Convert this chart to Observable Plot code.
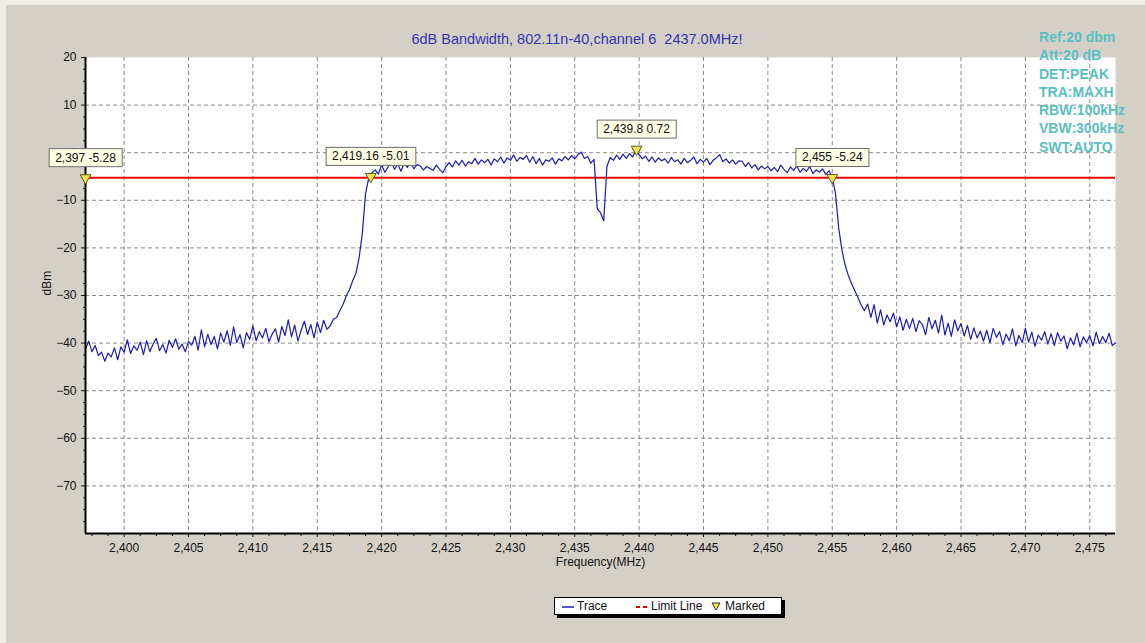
<!DOCTYPE html>
<html>
<head>
<meta charset="utf-8">
<script src="https://cdn.jsdelivr.net/npm/d3@7"></script>
<script src="https://cdn.jsdelivr.net/npm/@observablehq/plot@0.6"></script>
<style>
  html, body { margin: 0; padding: 0; width: 1145px; height: 643px; overflow: hidden; background: #eeece7; }
  #bg { position: absolute; left: 6px; top: 5px; right: 0; bottom: 0; background: #d4d0c8; }
  #chart { position: absolute; left: 0; top: 0; }
  #title { position: absolute; left: 327px; width: 500px; top: 31px; text-align: center; white-space: pre;
           font: 14.5px "Liberation Sans", Arial, sans-serif; color: #3434b0; }
  #stats { position: absolute; left: 1039px; top: 28px; font: bold 14px "Liberation Sans", Arial, sans-serif;
           line-height: 18.3px; color: #5abfc2; white-space: pre; }
  #legend { position: absolute; left: 554px; top: 597px; width: 226px; height: 16px; background: #fff;
            border: 1px solid #000; box-shadow: 3px 3px 0 #000; font: 12px "Liberation Sans", Arial, sans-serif; color: #111; }
  #legend span { position: absolute; top: 1px; }
  #legend svg { position: absolute; top: 0; }
</style>
</head>
<body>
<div id="bg"></div>
<div id="chart"></div>
<div id="title"></div>
<div id="stats"></div>
<div id="legend"></div>
<script>
// ---- data ----
const titleText = "6dB Bandwidth, 802.11n-40,channel 6  2437.0MHz!";
const settingsLines = ["Ref:20 dbm", "Att:20 dB", "DET:PEAK", "TRA:MAXH", "RBW:100kHz", "VBW:300kHz", "SWT:AUTO"];
const legendLabels = ["Trace", "Limit Line", "Marked"];

const sweepStartMHz = 2397;   // first sweep bin
const sweepStepMHz = 0.25;    // bin spacing
// trace level (dBm) per bin, 4 bins per MHz, 2397 .. 2477
const traceLevel = [
  -41.2, -39.6, -41.8, -40.5,  // 2397
  -42.6, -41.9, -43.8, -42.1,  // 2398
  -42.9, -41.0, -43.5, -40.8,  // 2399
  -41.9, -39.3, -42.2, -40.6,  // 2400
  -41.5, -39.8, -42.4, -39.5,  // 2401
  -41.8, -40.2, -39.0, -41.6,  // 2402
  -40.3, -42.1, -39.4, -40.9,  // 2403
  -39.1, -41.3, -40.2, -41.8,  // 2404
  -39.7, -40.4, -38.6, -41.5,  // 2405
  -37.2, -40.8, -38.1, -40.3,  // 2406
  -38.6, -41.2, -37.9, -39.8,  // 2407
  -37.4, -40.5, -36.6, -39.9,  // 2408
  -38.2, -41.0, -37.8, -39.2,  // 2409
  -36.4, -39.5, -37.6, -38.9,  // 2410
  -36.9, -39.7, -38.1, -37.0,  // 2411
  -39.8, -36.5, -38.4, -35.1,  // 2412
  -38.7, -36.2, -39.6, -37.3,  // 2413
  -35.4, -38.2, -36.1, -38.9,  // 2414
  -35.6, -37.8, -35.2, -37.1,  // 2415
  -36.4, -35.0, -34.6, -33.2,  // 2416
  -31.9, -30.1, -28.8, -26.9,  // 2417
  -25.4, -22.1, -17.0, -8.6,   // 2418
  -5.3, -4.2, -3.6, -4.5,      // 2419
  -2.6, -4.1, -3.0, -1.9,      // 2420
  -3.5, -2.4, -3.9, -2.2,      // 2421
  -3.1, -1.8, -3.4, -2.5,      // 2422
  -2.8, -3.6, -2.9, -3.3,      // 2423
  -3.7, -2.6, -3.5, -4.2,      // 2424
  -2.9, -2.1, -3.0, -1.7,      // 2425
  -2.6, -1.6, -2.8, -1.9,      // 2426
  -2.3, -1.2, -2.4, -1.5,      // 2427
  -2.1, -1.4, -2.6, -1.3,      // 2428
  -1.9, -0.9, -2.2, -1.1,      // 2429
  -1.6, -0.5, -1.8, -1.0,      // 2430
  -1.4, -0.6, -2.0, -0.8,      // 2431
  -2.3, -1.2, -2.6, -1.5,      // 2432
  -1.8, -1.1, -2.4, -1.3,      // 2433
  -1.7, -0.8, -1.5, -0.6,      // 2434
  -1.3, -0.4, 0.1, -1.2,       // 2435
  -0.8, -2.2, -1.4, -11.8,     // 2436
  -12.6, -14.3, -2.9, -1.0,    // 2437
  -1.6, -0.5, -1.4, -0.3,      // 2438
  -1.2, -0.2, -0.9, 0.6,       // 2439
  -0.4, -1.3, -0.7, -1.8,      // 2440
  -0.9, -2.0, -1.1, -1.7,      // 2441
  -1.3, -2.2, -1.0, -1.9,      // 2442
  -1.5, -2.4, -1.2, -2.1,      // 2443
  -1.6, -0.9, -2.3, -1.4,      // 2444
  -2.0, -1.2, -2.5, -1.6,      // 2445
  -1.1, -0.4, -1.9, -1.3,      // 2446
  -2.2, -1.5, -2.4, -1.7,      // 2447
  -1.8, -2.9, -2.1, -3.2,      // 2448
  -2.5, -3.6, -2.8, -3.4,      // 2449
  -2.9, -3.8, -3.1, -4.0,      // 2450
  -2.6, -3.5, -4.2, -3.0,      // 2451
  -3.7, -2.8, -4.1, -3.3,      // 2452
  -3.9, -2.9, -4.4, -3.6,      // 2453
  -4.1, -3.4, -4.6, -3.8,      // 2454
  -5.2, -8.6, -15.8, -20.4,    // 2455
  -23.6, -25.8, -27.5, -29.0,  // 2456
  -30.4, -32.0, -33.2, -31.8,  // 2457
  -34.6, -31.9, -35.8, -33.0,  // 2458
  -36.2, -34.1, -35.5, -33.7,  // 2459
  -36.6, -34.5, -37.3, -35.0,  // 2460
  -36.9, -34.8, -37.6, -35.3,  // 2461
  -36.1, -38.2, -34.6, -37.0,  // 2462
  -35.2, -37.9, -34.1, -38.3,  // 2463
  -35.8, -38.6, -35.1, -37.4,  // 2464
  -35.9, -38.5, -36.3, -39.2,  // 2465
  -36.8, -38.9, -37.5, -39.6,  // 2466
  -37.3, -39.9, -36.9, -38.8,  // 2467
  -37.6, -40.3, -38.1, -39.5,  // 2468
  -37.0, -40.6, -38.4, -39.9,  // 2469
  -36.9, -39.8, -37.7, -40.7,  // 2470
  -38.3, -39.4, -37.6, -40.2,  // 2471
  -38.0, -40.5, -37.8, -39.6,  // 2472
  -38.5, -41.2, -38.9, -40.4,  // 2473
  -37.9, -40.8, -38.7, -39.9,  // 2474
  -38.4, -40.6, -37.7, -40.1,  // 2475
  -38.6, -39.9, -37.9, -40.5,  // 2476
  -40.0                        // 2477
];

const limitLevel = -5.28;
const markerFreq = [2397, 2419.16, 2439.8, 2455];
const markerLevel = [-5.28, -5.01, 0.72, -5.24];

const xDomain = [2397, 2477];
const yDomain = [-80, 20];
const xTicks = [2400, 2405, 2410, 2415, 2420, 2425, 2430, 2435, 2440, 2445, 2450, 2455, 2460, 2465, 2470, 2475];
const yTicks = [20, 10, 0, -10, -20, -30, -40, -50, -60, -70];
const yGrid = [10, 0, -10, -20, -30, -40, -50, -60, -70];

// ---- tables ----
const trace = traceLevel.map((v, i) => ({f: sweepStartMHz + i * sweepStepMHz, v}));
const fmt = d3.format(",");
const markers = markerFreq.map((f, i) => ({f, v: markerLevel[i], label: `${fmt(f)} ${markerLevel[i]}`}));
const minorX = d3.range(2397.5, 2477, 1.25).filter(t => !xTicks.includes(t));
const minorY = d3.range(-77.5, 20, 2.5).filter(t => !yTicks.includes(t));

const font = '"Liberation Sans", Arial, sans-serif';

const svg = Plot.plot({
  width: 1145,
  height: 643,
  marginLeft: 85,
  marginRight: 30,
  marginTop: 57,
  marginBottom: 110,
  x: {domain: xDomain},
  y: {domain: yDomain},
  style: {background: "transparent", fontFamily: font, fontSize: "12px", color: "#111"},
  marks: [
    Plot.frame({fill: "white"}),
    Plot.gridX(xTicks, {stroke: "#8a8a8a", strokeOpacity: 1, strokeDasharray: "4,3"}),
    Plot.gridY(yGrid, {stroke: "#8a8a8a", strokeOpacity: 1, strokeDasharray: "4,3"}),
    Plot.ruleY([limitLevel], {stroke: "#e80000", strokeWidth: 2}),
    Plot.line(trace, {x: "f", y: "v", stroke: "#1c1cb2", strokeWidth: 1.2}),
    Plot.ruleX([xDomain[0]], {stroke: "#000", strokeWidth: 2}),
    Plot.ruleY([yDomain[0]], {stroke: "#000", strokeWidth: 2}),
    Plot.axisX(xTicks, {tickSize: 4, tickPadding: 6, tickFormat: ",", label: null, fontSize: 12}),
    Plot.axisX(minorX, {tickSize: 3, tickFormat: () => "", label: null}),
    Plot.axisY(yTicks, {tickSize: 4, tickPadding: 5, label: null, fontSize: 12}),
    Plot.axisY(minorY, {tickSize: 2, tickFormat: () => "", label: null}),
    Plot.text(["Frequency(MHz)"], {frameAnchor: "bottom", dy: 32, fontSize: 12}),
    Plot.text(["dBm"], {frameAnchor: "left", dx: -38, rotate: -90, fontSize: 12}),
    Plot.dot(markers, {x: "f", y: "v", symbol: "triangle", rotate: 180, r: 4, fill: "#f4e44a", stroke: "#5a5a2a", strokeWidth: 1}),
    Plot.text(markers, {x: "f", y: "v", text: "label", dy: -20, fontSize: 12, fill: "#111", ariaDescription: "marker-labels"})
  ]
});
document.getElementById("chart").append(svg);

// boxes behind marker labels
let g = svg.querySelector('g[aria-description="marker-labels"]');
if (!g) {
  const groups = [...svg.querySelectorAll('g[aria-label="text"]')];
  g = groups[groups.length - 1];
}
if (g) {
  g.querySelectorAll("text").forEach(t => {
    const b = t.getBBox();
    const r = document.createElementNS("http://www.w3.org/2000/svg", "rect");
    r.setAttribute("x", b.x - 6);
    r.setAttribute("y", b.y - 2);
    r.setAttribute("width", b.width + 12);
    r.setAttribute("height", b.height + 4);
    r.setAttribute("fill", "#ffffe6");
    r.setAttribute("stroke", "#6e6e6e");
    r.setAttribute("stroke-width", 1);
    if (t.getAttribute("transform")) r.setAttribute("transform", t.getAttribute("transform"));
    g.insertBefore(r, t);
  });
}

// title & settings
document.getElementById("title").textContent = titleText;
document.getElementById("stats").textContent = settingsLines.join("\n");

// legend
const lg = document.getElementById("legend");
lg.innerHTML = `
  <svg width="14" height="16" style="left:7px"><line x1="0" x2="12" y1="9" y2="9" stroke="#1c1cb2" stroke-width="1.5"/></svg>
  <span style="left:22px">${legendLabels[0]}</span>
  <svg width="14" height="16" style="left:81px"><line x1="0" x2="12" y1="9" y2="9" stroke="#e80000" stroke-width="2" stroke-dasharray="4,3"/></svg>
  <span style="left:96px">${legendLabels[1]}</span>
  <svg width="12" height="16" style="left:156px"><path d="M1,5 L9,5 L5,12 Z" fill="#f4e44a" stroke="#333" stroke-width="1"/></svg>
  <span style="left:170px">${legendLabels[2]}</span>`;
</script>
</body>
</html>
